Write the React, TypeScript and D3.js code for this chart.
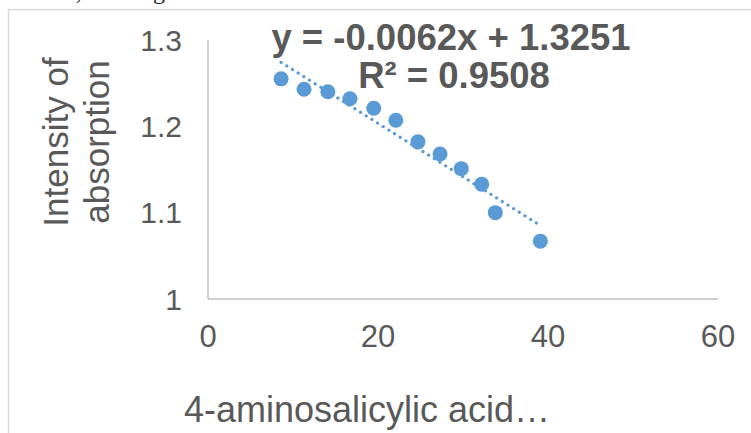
import React from "react";
import * as d3 from "d3";

// concentration of 4-aminosalicylic acid vs absorption intensity
const concentrations = [8.6, 11.3, 14.1, 16.7, 19.5, 22.1, 24.7, 27.3, 29.8, 32.2, 33.8, 39.1];
const intensities = [1.255, 1.243, 1.24, 1.232, 1.221, 1.207, 1.182, 1.168, 1.151, 1.133, 1.1, 1.067];
const xTicks = [0, 20, 40, 60];
const yTicks = [1, 1.1, 1.2, 1.3];
const equationLines = ["y = -0.0062x + 1.3251", "R² = 0.9508"];
const yTitleLines = ["Intensity of", "absorption"];
const xTitle = "4-aminosalicylic acid…";
const topText = "linear, with a good correlation coefficient of 0.9508 for the";

const W = 751;
const H = 433;
const blue = "#5b9bd5";
const grey = "#595959";
const font = "'Liberation Sans', Arial, sans-serif";

const App: React.FC = () => {
  const x = d3.scaleLinear().domain([0, 60]).range([208, 718]);
  const y = d3.scaleLinear().domain([1, 1.3]).range([299, 40]);

  // least squares trendline from the points
  const mx = d3.mean(concentrations) ?? 0;
  const my = d3.mean(intensities) ?? 0;
  let sxy = 0;
  let sxx = 0;
  concentrations.forEach((c, i) => {
    sxy += (c - mx) * (intensities[i] - my);
    sxx += (c - mx) * (c - mx);
  });
  const slope = sxy / sxx;
  const icpt = my - slope * mx;
  const [x0, x1] = d3.extent(concentrations) as [number, number];
  const trend = d3.line<number>()
    .x((d) => x(d))
    .y((d) => y(icpt + slope * d))([x0, x1]);

  return (
    <svg width={W} height={H} style={{ position: "absolute", left: 0, top: 0, background: "#fff" }}>
      {/* tail of the page text above the chart, mostly cut off */}
      <text x={22} y={-1} fontFamily="'Liberation Serif', 'Times New Roman', serif" fontSize={24} fill="#222">
        {topText}
      </text>
      <rect x={8.5} y={9.5} width={900} height={600} fill="none" stroke="#d9d9d9" strokeWidth={1.5} />

      {/* axes */}
      <line x1={x(0)} x2={x(0)} y1={y(1.3)} y2={y(1)} stroke="#bfbfbf" strokeWidth={1.5} />
      <line x1={x(0)} x2={x(60)} y1={y(1)} y2={y(1)} stroke="#bfbfbf" strokeWidth={1.5} />

      {yTicks.map((t) => (
        <text key={t} x={x(0) - 26} y={y(t)} dy="0.35em" textAnchor="end"
          fontFamily={font} fontSize={30} fill={grey}>
          {d3.format("")(t)}
        </text>
      ))}
      {xTicks.map((t) => (
        <text key={t} x={x(t)} y={y(1) + 48} textAnchor="middle"
          fontFamily={font} fontSize={31} fill={grey}>
          {t}
        </text>
      ))}

      {/* axis titles */}
      <text transform="translate(68,142) rotate(-90)" textAnchor="middle" fontFamily={font} fontSize={35} fill={grey}>
        <tspan x={0} dy={0}>{yTitleLines[0]}</tspan>
        <tspan x={0} dy={41}>{yTitleLines[1]}</tspan>
      </text>
      <text x={367} y={422} textAnchor="middle" fontFamily={font} fontSize={36} fill={grey}>
        {xTitle}
      </text>

      {/* trendline */}
      <path d={trend ?? ""} fill="none" stroke={blue} strokeWidth={3.2}
        strokeDasharray="0.1 6.6" strokeLinecap="round" />

      {concentrations.map((c, i) => (
        <circle key={i} cx={x(c)} cy={y(intensities[i])} r={7.5} fill={blue} />
      ))}

      {/* equation label */}
      <text x={451} y={50} textAnchor="middle" fontFamily={font} fontWeight="bold" fontSize={36.5} fill={grey}>
        {equationLines[0]}
      </text>
      <text x={454} y={88} textAnchor="middle" fontFamily={font} fontWeight="bold" fontSize={36.5} fill={grey}>
        {equationLines[1]}
      </text>
    </svg>
  );
};

export default App;
